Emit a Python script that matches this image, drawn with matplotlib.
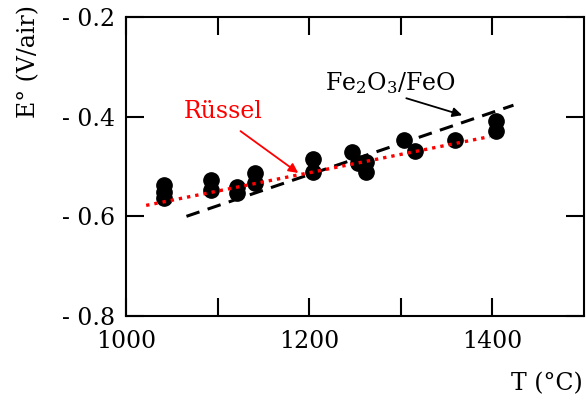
import matplotlib
matplotlib.use("Agg")
import matplotlib.pyplot as plt

plt.rcParams['font.family'] = ['DejaVu Serif']
plt.rcParams['mathtext.fontset'] = 'dejavuserif'

# Measured standard potentials vs temperature
T_meas = [1041, 1041, 1041, 1093, 1093, 1121, 1121, 1141, 1141,
          1204, 1204, 1247, 1253, 1262, 1262, 1304, 1315, 1359, 1404, 1404]
E_meas = [-0.537, -0.551, -0.563, -0.527, -0.547, -0.541, -0.553, -0.513, -0.533,
          -0.485, -0.511, -0.471, -0.493, -0.491, -0.511, -0.447, -0.469, -0.447,
          -0.409, -0.429]

# Rüssel fit (red dotted)
russel_T = [1022, 1397]
russel_E = [-0.578, -0.440]

# Fe2O3/FeO equilibrium (black dashed)
feo_T = [1066, 1423]
feo_E = [-0.600, -0.377]

x_ticks = [1000, 1100, 1200, 1300, 1400]
x_labels = ['1000', '', '1200', '', '1400']
y_ticks = [-0.8, -0.6, -0.4, -0.2]
y_labels = ['- 0.8', '- 0.6', '- 0.4', '- 0.2']

fig = plt.figure(figsize=(5.86, 4.09), dpi=100)
ax = fig.add_axes([126 / 586, 1 - 316 / 409, 458 / 586, 299 / 409])

ax.plot(T_meas, E_meas, 'o', color='black', markersize=11, zorder=3)
ax.plot(feo_T, feo_E, color='black', linewidth=2.2,
        linestyle=(0, (4.5, 2.8)), zorder=4)
ax.plot(russel_T, russel_E, color='#ff0000', linewidth=2.4,
        linestyle=(0, (1, 1.5)), zorder=5)

ax.set_xlim(1000, 1500)
ax.set_ylim(-0.8, -0.2)
ax.set_xticks(x_ticks)
ax.set_xticklabels(x_labels)
ax.set_yticks(y_ticks)
ax.set_yticklabels(y_labels)

for s in ax.spines.values():
    s.set_linewidth(1.5)
ax.tick_params(direction='in', length=13, width=1.5, top=True, right=True,
               labelsize=17, pad=8)
ax.tick_params(axis='x', pad=10)

ax.text(1106, -0.389, 'Rüssel', color='#ff0000', fontsize=17,
        ha='center', va='center')
ax.annotate('', xy=(1188, -0.513), xytext=(1125, -0.429),
            arrowprops=dict(arrowstyle='-|>', color='#ff0000', lw=1.3,
                            mutation_scale=14, shrinkA=0, shrinkB=0))

ax.text(1289, -0.3325, 'Fe$_2$O$_3$/FeO', color='black', fontsize=17,
        ha='center', va='center')
ax.annotate('', xy=(1367, -0.397), xytext=(1306, -0.363),
            arrowprops=dict(arrowstyle='-|>', color='black', lw=1.3,
                            mutation_scale=14, shrinkA=0, shrinkB=0))

fig.text(29 / 586, 1 - 62 / 409, 'E° (V/air)', rotation=90, fontsize=17,
         ha='center', va='center')
fig.text(583 / 586, 1 - 384 / 409, 'T (°C)', fontsize=17,
         ha='right', va='center')

fig.savefig('out.png', dpi=100)
